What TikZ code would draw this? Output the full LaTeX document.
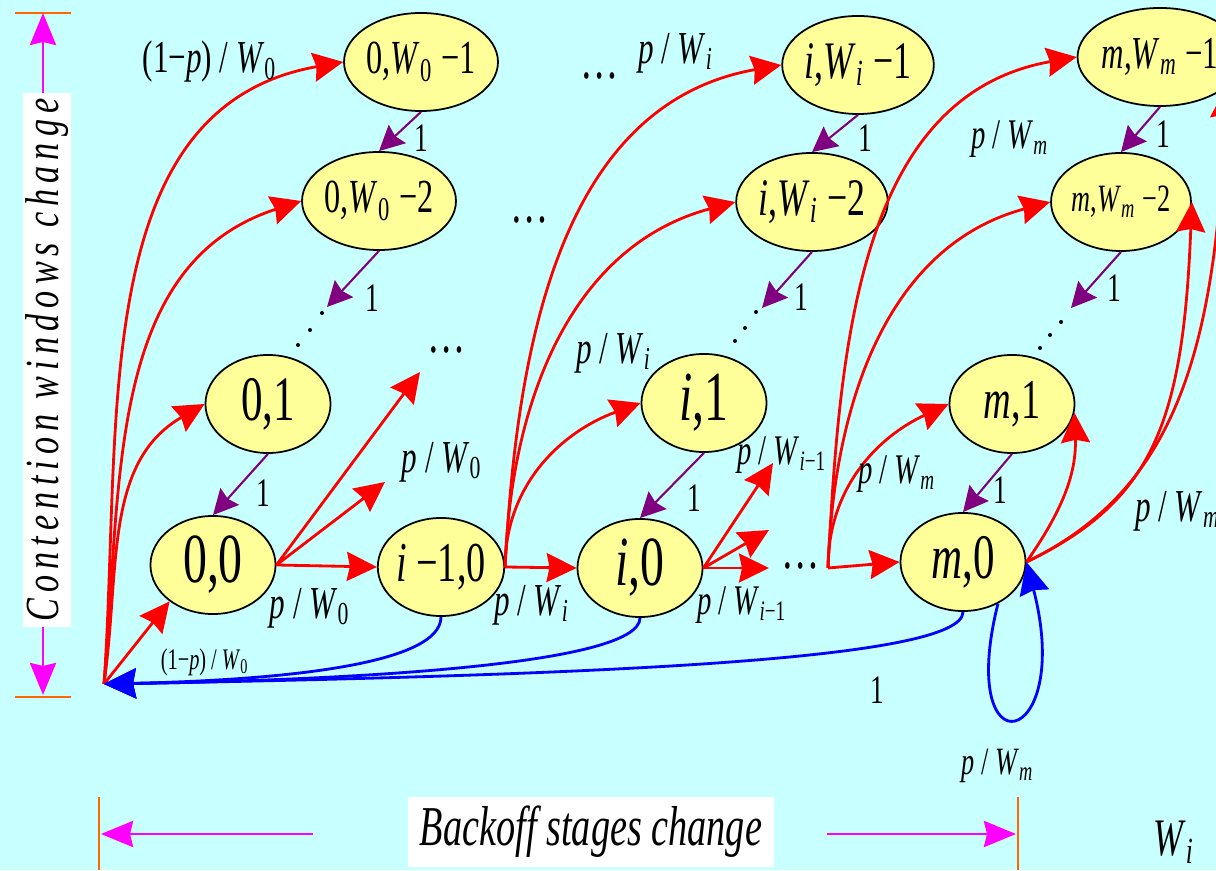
\documentclass[tikz,border=0pt]{standalone}
\usepackage{fontspec}
\setmainfont[FakeStretch=0.68]{Liberation Serif}
\newfontfamily\spacedfont[FakeStretch=0.72,LetterSpace=13]{Liberation Serif}
\usetikzlibrary{shapes.geometric,arrows.meta,positioning}
\definecolor{bgcyan}{RGB}{200,255,255}
\definecolor{stateyellow}{RGB}{255,255,153}
\definecolor{tranpurple}{RGB}{128,0,128}
\definecolor{markorange}{RGB}{255,102,0}
\definecolor{dirmagenta}{RGB}{255,0,255}
\newcommand{\pw}[1]{\textit{p}\,/\,\textit{W}\textsubscript{#1}}
\newcommand{\fs}[1]{\fontsize{#1}{#1}\selectfont}
\tikzset{
  state/.style={ellipse, draw=black, line width=0.5pt, fill=stateyellow,
    inner sep=0pt, minimum width=1.25cm, minimum height=0.98cm},
  lbl/.style={font=\fs{13}, inner sep=0pt},
  one/.style={font=\fs{11.5}, inner sep=0pt},
  redarr/.style={draw=red, line width=0.8pt,
    -{Stealth[length=0.3cm,width=0.29cm,inset=0.03cm]}},
  purarr/.style={draw=tranpurple, line width=0.6pt,
    -{Stealth[length=0.25cm,width=0.25cm,inset=0.03cm]}},
  bluearr/.style={draw=blue, line width=0.8pt,
    -{Stealth[length=0.32cm,width=0.3cm,inset=0.03cm]}},
  magarr/.style={draw=dirmagenta, line width=0.85pt,
    -{Stealth[length=0.32cm,width=0.26cm,inset=0.03cm]}},
  tick/.style={draw=markorange, line width=0.75pt}
}
\begin{document}
\begin{tikzpicture}[x=0.01cm,y=0.01cm]
\fill[bgcyan] (0,0) rectangle (1216,870);
\useasboundingbox (0,0) rectangle (1216,870);
\clip (0,0) rectangle (1216,870);

% states
\node[state,font=\fs{13.5}] (s0a) at (421,808) {0,\textit{W}\textsubscript{0}\,−1};
\node[state,font=\fs{13.5}] (s0b) at (379,669) {0,\textit{W}\textsubscript{0}\,−2};
\node[state,font=\fs{18}] (s01) at (268,466) {0,1};
\node[state,font=\fs{20}] (s00) at (213,305) {0,0};
\node[state,font=\fs{16}] (s10) at (441,303) {\textit{i}\,−1,0};
\node[state,font=\fs{20}] (si0) at (640,302) {\textit{i},0};
\node[state,font=\fs{20}] (si1) at (704,467) {\textit{i},1};
\node[state,font=\fs{15}] (sib) at (812,668) {\textit{i},\textit{W}\textsubscript{\textit{i}}\,−2};
\node[state,font=\fs{15}] (sia) at (858,805) {\textit{i},\textit{W}\textsubscript{\textit{i}}\,−1};
\node[state,font=\fs{18}] (sm0) at (963,308) {\textit{m},0};
\node[state,font=\fs{16}] (sm1) at (1012,466) {\textit{m},1};
\node[state,font=\fs{11}] (smb) at (1121,668) {\textit{m},\textit{W}\textsubscript{\textit{m}}\,−2};
\node[state,font=\fs{13}] (sma) at (1160,813) {\textit{m},\textit{W}\textsubscript{\textit{m}}\,−1};

\coordinate (o) at (104,186);
\coordinate (a1) at (385,388);
\coordinate (a2) at (420,498);
\coordinate (b1) at (769,302);
\coordinate (b2) at (769,340);
\coordinate (b3) at (773,407);
\coordinate (d) at (828,302);
\coordinate (q0) at (327,563);
\coordinate (qi) at (762,562);
\coordinate (qm) at (1071,562);

% dots
\foreach \x/\y in {322/557,310/540,298/525,756/558,745/542,735/529,1061/548,1050/535,1040/522}
  \fill (\x,\y) circle (2);
\node[font=\fs{16}] (e1) at (447,520) {\ldots};
\node[font=\fs{16}] (e2) at (530,650) {\ldots};
\node[font=\fs{16}] (e3) at (801,304) {\ldots};
\node[font=\fs{16}] (e4) at (600,794) {\ldots};

% decrements
\draw[purarr] (s0a.south) -- (s0b.north);
\draw[purarr] (s0b.south) -- (q0);
\draw[purarr] (s01.south) -- (s00.north);
\draw[purarr] (sia.south) -- (sib.north);
\draw[purarr] (sib.south) -- (qi);
\draw[purarr] (si1.south) -- (si0.north);
\draw[purarr] (sma.south) -- (smb.north);
\draw[purarr] (smb.south) -- (qm);
\draw[purarr] (sm1.south) -- (sm0.north);
\foreach \x/\y [count=\k] in {421/732,372/572,263/377,865/732,801/573,694/372,1163/736,1114/582,1000/380}
  \node[one] (one\k) at (\x,\y) {1};

% stage 0
\draw[redarr] (o) -- (s00.220);
\draw[redarr] (o) to[out=82,in=210] (s01.west);
\draw[redarr] (o) to[out=85,in=198] (s0b.west);
\draw[redarr] (o) to[out=86,in=190] (s0a.west);
\draw[redarr] (s00.east) -- (s10.west);
\draw[redarr] (s00.east) -- (a1);
\draw[redarr] (s00.east) -- (a2);

% stage i
\draw[redarr] (s10.east) -- (si0.west);
\draw[redarr] (s10.east) to[out=90,in=200] (si1.west);
\draw[redarr] (s10.east) to[out=88,in=195] (sib.west);
\draw[redarr] (s10.east) to[out=87,in=190] (sia.west);
\draw[redarr] (si0.east) -- (b1);
\draw[redarr] (si0.east) -- (b2);
\draw[redarr] (si0.east) -- (b3);

% stage m
\draw[redarr] (d) -- (sm0.west);
\draw[redarr] (d) to[out=90,in=205] (sm1.west);
\draw[redarr] (d) to[out=88,in=195] (smb.west);
\draw[redarr] (d) to[out=87,in=190] (sma.west);
\draw[redarr] (sm0.east) to[out=55,in=-88] (sm1.-8);
\draw[redarr] (sm0.east) .. controls (1153,369) and (1183,447) .. (smb.east);
\draw[redarr] (sm0.east) .. controls (1171,378) and (1216,510) .. (sma.-25);

% back to stage 0
\draw[bluearr] (s10.south) .. controls (441,205) and (280,190) .. (o);
\draw[bluearr] (si0.south) .. controls (640,205) and (350,190) .. (o);
\draw[bluearr] (sm0.south) .. controls (963,210) and (600,195) .. (o);
\draw[bluearr] (sm0.-50) .. controls (955,95) and (1075,120) .. (sm0.east);

% labels
\node[lbl] (p1) at (210,808) {(1−\textit{p})\,/\,\textit{W}\textsubscript{0}};
\node[lbl,font=\fs{8.5}] (p2) at (205,208) {(1−\textit{p})\,/\,\textit{W}\textsubscript{0}};
\node[lbl] (p3) at (310,262) {\pw{0}};
\node[lbl] (p4) at (442,408) {\pw{0}};
\node[lbl] (p5) at (532,265) {\pw{\textit{i}}};
\node[lbl] (p6) at (614,517) {\pw{\textit{i}}};
\node[lbl] (p7) at (676,817) {\pw{\textit{i}}};
\node[lbl,font=\fs{12}] (p8) at (782,415) {\pw{\textit{i}−1}};
\node[lbl,font=\fs{12}] (p9) at (742,265) {\pw{\textit{i}−1}};
\node[lbl,font=\fs{12}] (p10) at (897,396) {\pw{\textit{m}}};
\node[lbl,font=\fs{12}] (p11) at (1010,731) {\pw{\textit{m}}};
\node[lbl] (p12) at (1178,359) {\pw{\textit{m}}};
\node[lbl,font=\fs{11}] (p13) at (998,104) {\pw{\textit{m}}};
\node[one] (one0) at (877,180) {1};
\node[lbl,font=\fs{15}] (wi) at (1174,28) {\textit{W}\textsubscript{\textit{i}}};

% contention window axis
\coordinate (ctop) at (43,857);
\coordinate (cbot) at (43,173);
\draw[tick] (15,857) -- (71,857);
\draw[tick] (15,173) -- (71,173);
\node[fill=white, rotate=90, inner sep=0pt, minimum width=5.33cm, minimum height=0.48cm,
  font=\fs{13.5}] (cbox) at (47,510) {\spacedfont\itshape Contention windows change};
\draw[magarr] (ctop |- cbox.east) -- (ctop);
\draw[magarr] (cbot |- cbox.west) -- ([yshift=0.02cm]cbot);

% backoff stage axis
\coordinate (bl) at (99,36);
\coordinate (br) at (1018,36);
\draw[tick] (99,73) -- (99,0);
\draw[tick] (1018,73) -- (1018,0);
\node[fill=white, inner sep=0pt, minimum width=3.66cm, minimum height=0.70cm,
  font=\fs{16}] (bbox) at (591,38) {\itshape Backoff stages change};
\draw[magarr] ([xshift=-0.94cm]bbox.west |- bl) -- ([xshift=0.02cm]bl);
\draw[magarr] ([xshift=0.52cm]bbox.east |- br) -- ([xshift=-0.02cm]br);
\end{tikzpicture}
\end{document}
